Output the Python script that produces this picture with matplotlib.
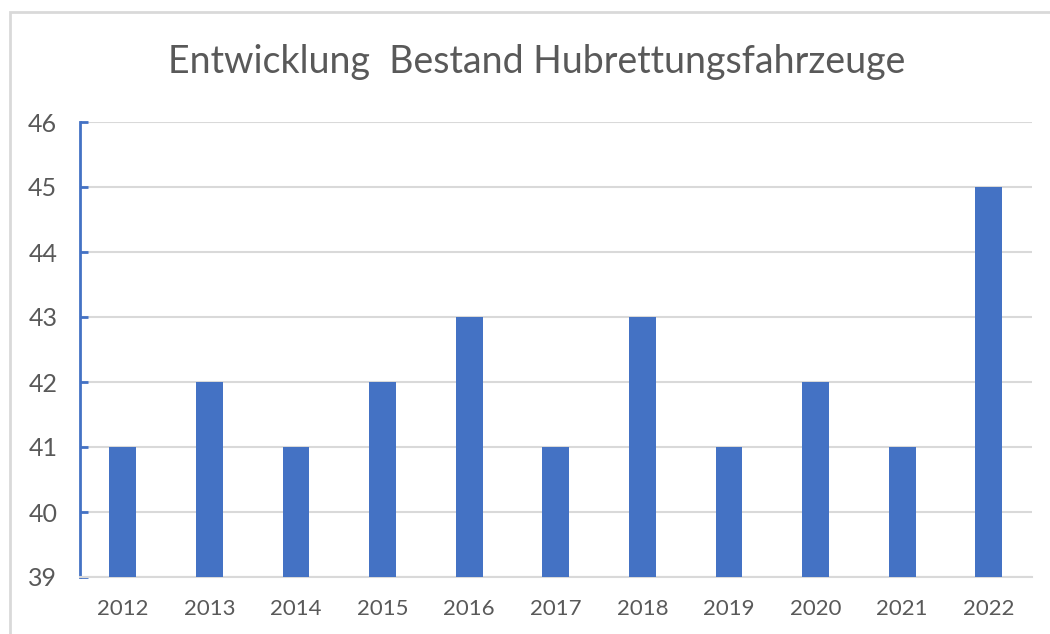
import matplotlib
matplotlib.use("Agg")
import matplotlib.pyplot as plt
from matplotlib.patches import Rectangle
import numpy as np

jahre = ["2012", "2013", "2014", "2015", "2016", "2017", "2018", "2019", "2020", "2021", "2022"]
bestand = [41, 42, 41, 42, 43, 41, 43, 41, 42, 41, 45]

blau = "#4472C4"
grau = "#595959"

plt.rcParams["font.family"] = ["Lato", "DejaVu Sans"]

fig = plt.figure(figsize=(10.5, 6.34), dpi=100)
fig.patch.set_facecolor("white")

# Rahmen wie im Excel-Diagramm (rechts/unten abgeschnitten)
fig.patches.append(Rectangle((10 / 1050, -0.1), 1.2, (634 - 12) / 634 + 0.1,
                             transform=fig.transFigure, fill=False,
                             edgecolor="#D9D9D9", linewidth=2))

ax = fig.add_axes([79.5 / 1050, 1 - 577 / 634, (1032 - 79.5) / 1050, (577 - 122) / 634])

x = np.arange(len(jahre))
ax.bar(x, [b - 39 for b in bestand], bottom=39, width=0.31, color=blau, zorder=3)

ax.set_xlim(-0.5, len(jahre) - 0.5)
ax.set_ylim(39, 46)
ax.set_yticks(range(39, 47))
ax.set_xticks(x)
ax.set_xticklabels(jahre)

ax.grid(axis="y", color="#D9D9D9", linewidth=1.5, zorder=0)
for s in ["top", "right"]:
    ax.spines[s].set_visible(False)
ax.spines["bottom"].set_color("#D9D9D9")
ax.spines["bottom"].set_linewidth(1.5)
ax.spines["left"].set_color(blau)
ax.spines["left"].set_linewidth(2)

ax.tick_params(axis="y", direction="in", length=6, width=2, color=blau,
               labelsize=18, labelcolor=grau, pad=16)
ax.tick_params(axis="x", length=0, labelsize=16, labelcolor=grau, pad=16)

fig.text(537 / 1050, 1 - 62 / 634, "Entwicklung  Bestand Hubrettungsfahrzeuge",
         ha="center", va="center", fontsize=27, color=grau)

fig.savefig("out.png", dpi=100)
